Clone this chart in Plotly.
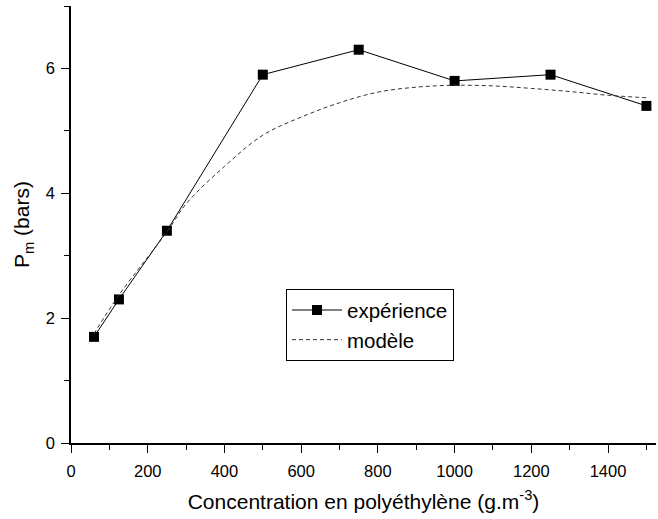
import plotly.graph_objects as go

exp_x = [60, 125, 250, 500, 750, 1000, 1250, 1500]
exp_y = [1.7, 2.3, 3.4, 5.9, 6.3, 5.8, 5.9, 5.4]

mod_x = [60, 125, 250, 300, 400, 500, 600, 700, 800, 900, 1000, 1100, 1200, 1300, 1400, 1500]
mod_y = [1.75, 2.37, 3.38, 3.83, 4.43, 4.93, 5.22, 5.45, 5.62, 5.70, 5.73, 5.72, 5.68, 5.63, 5.57, 5.53]

FONT = "Liberation Sans, Arial, sans-serif"

fig = go.Figure()
fig.add_trace(go.Scatter(x=exp_x, y=exp_y, mode="lines+markers", name="expérience",
                         line=dict(color="black", width=1),
                         marker=dict(symbol="square", size=10, color="black")))
fig.add_trace(go.Scatter(x=mod_x, y=mod_y, mode="lines", name="modèle", line_shape="spline",
                         line=dict(color="#333333", width=1, dash="4px,3px")))

fig.update_layout(
    width=658, height=519,
    margin=dict(l=71, r=2, t=6, b=76),
    plot_bgcolor="white", paper_bgcolor="white",
    font=dict(family=FONT, size=16, color="black"),
    legend=dict(x=0.3675, y=0.352, xanchor="left", yanchor="top",
                bordercolor="black", borderwidth=1, bgcolor="white",
                font=dict(size=20.5, family=FONT), itemwidth=50,
                tracegroupgap=0),
    xaxis=dict(range=[0, 1525], tickvals=[0, 200, 400, 600, 800, 1000, 1200, 1400],
               ticks="outside", ticklen=8, tickwidth=1, tickcolor="black",
               showline=True, linecolor="black", linewidth=1.5, showgrid=False, zeroline=False,
               ticklabelstandoff=4,
               minor=dict(tickvals=[100, 300, 500, 700, 900, 1100, 1300, 1500], ticks="outside", ticklen=5, tickcolor="black"),
               title=dict(text="Concentration en polyéthylène (g.m<sup>-3</sup>)", font=dict(size=21), standoff=16),
               tickfont=dict(size=16.5)),
    yaxis=dict(range=[0, 7], tickvals=[0, 2, 4, 6],
               ticks="outside", ticklen=8, tickwidth=1, tickcolor="black",
               showline=True, linecolor="black", linewidth=1.5, showgrid=False, zeroline=False,
               ticklabelstandoff=3,
               minor=dict(tickvals=[1, 3, 5, 7], ticks="outside", ticklen=5, tickcolor="black"),
               title=dict(text="P<sub>m</sub> (bars)", font=dict(size=21), standoff=10),
               tickfont=dict(size=16.5)),
)

fig.write_html("out.html", config={"displayModeBar": False},
               post_script="document.body.style.margin='0';document.body.style.overflow='hidden';")
